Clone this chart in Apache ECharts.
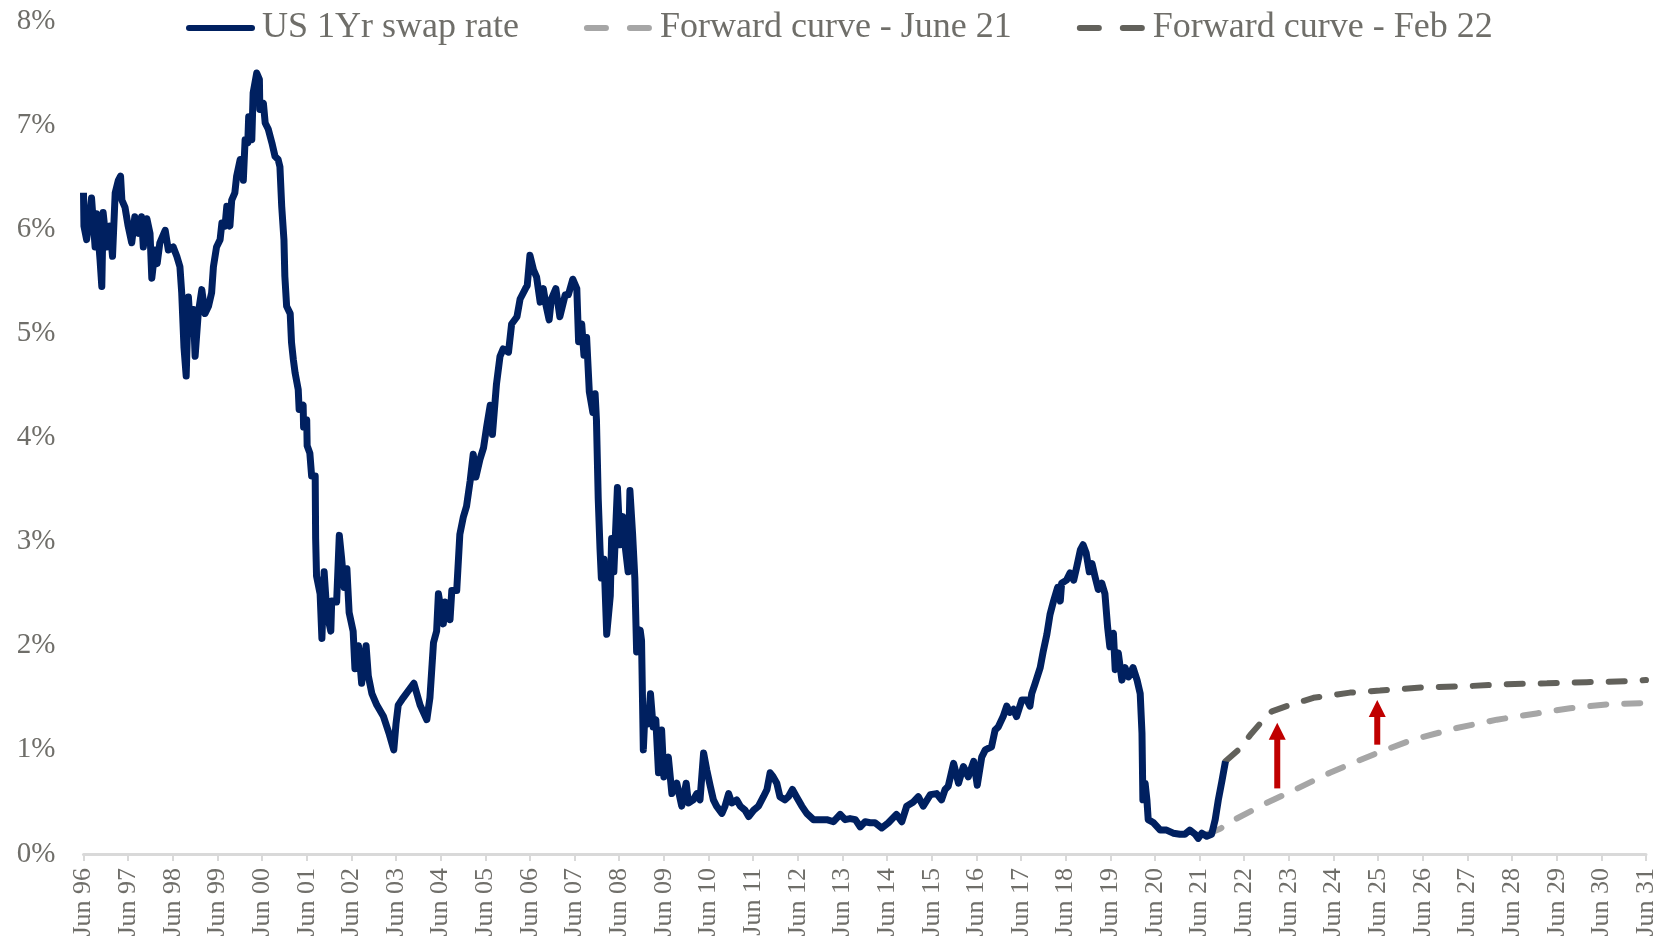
<!DOCTYPE html>
<html>
<head>
<meta charset="utf-8">
<title>US 1Yr swap rate</title>
<script src="https://cdn.jsdelivr.net/npm/echarts@6/dist/echarts.min.js"></script>
<style>
  html, body { margin: 0; padding: 0; background: #fff; }
  #chart { width: 1660px; height: 944px; }
</style>
</head>
<body>
<div id="chart"></div>
<script>
// x values are years after Jun 96 (the first tick)
var xTickLabels = ['Jun 96','Jun 97','Jun 98','Jun 99','Jun 00','Jun 01','Jun 02','Jun 03','Jun 04','Jun 05',
  'Jun 06','Jun 07','Jun 08','Jun 09','Jun 10','Jun 11','Jun 12','Jun 13','Jun 14','Jun 15','Jun 16',
  'Jun 17','Jun 18','Jun 19','Jun 20','Jun 21','Jun 22','Jun 23','Jun 24','Jun 25','Jun 26','Jun 27',
  'Jun 28','Jun 29','Jun 30','Jun 31'];

var swapT = [0.00,0.01,0.07,0.18,0.26,0.29,0.37,0.41,0.44,0.52,0.59,0.65,0.71,0.78,0.83,0.86,0.93,1.00,1.08,1.15,
  1.23,1.30,1.34,1.42,1.49,1.53,1.60,1.65,1.71,1.83,1.90,2.01,2.09,2.16,2.20,2.25,2.30,2.35,2.40,2.46,
  2.50,2.57,2.65,2.72,2.80,2.87,2.91,2.98,3.06,3.10,3.17,3.21,3.28,3.32,3.39,3.43,3.51,3.58,3.62,3.68,
  3.70,3.77,3.80,3.88,3.94,3.95,4.03,4.07,4.14,4.22,4.29,4.36,4.40,4.44,4.49,4.51,4.55,4.63,4.66,4.70,
  4.74,4.81,4.83,4.92,4.93,5.00,5.01,5.07,5.11,5.19,5.20,5.22,5.30,5.34,5.39,5.45,5.54,5.56,5.67,5.73,
  5.78,5.84,5.90,5.95,6.04,6.08,6.16,6.23,6.33,6.38,6.46,6.57,6.72,6.85,6.95,7.00,7.05,7.16,7.40,7.54,
  7.69,7.76,7.84,7.91,7.95,8.06,8.10,8.21,8.25,8.36,8.43,8.51,8.58,8.66,8.73,8.79,8.88,8.96,9.03,9.11,
  9.16,9.25,9.33,9.40,9.52,9.59,9.71,9.78,9.90,9.94,10.00,10.08,10.15,10.23,10.30,10.36,10.43,10.48,10.58,10.67,
  10.79,10.86,10.96,11.05,11.09,11.16,11.21,11.27,11.33,11.41,11.46,11.49,11.53,11.57,11.60,11.66,11.72,11.80,11.83,11.88,
  11.96,12.02,12.08,12.13,12.20,12.24,12.30,12.35,12.39,12.47,12.50,12.54,12.58,12.65,12.70,12.76,12.82,12.88,12.95,13.00,
  13.10,13.18,13.29,13.40,13.50,13.55,13.66,13.74,13.81,13.89,13.96,14.04,14.11,14.18,14.30,14.37,14.45,14.52,14.63,14.71,
  14.82,14.90,15.01,15.12,15.23,15.31,15.38,15.45,15.53,15.60,15.71,15.79,15.88,15.97,16.09,16.20,16.35,16.50,16.65,16.80,
  16.95,17.06,17.17,17.29,17.40,17.51,17.62,17.73,17.88,18.03,18.21,18.33,18.44,18.59,18.70,18.81,18.97,19.11,19.22,19.30,
  19.37,19.49,19.60,19.71,19.82,19.94,20.02,20.12,20.20,20.34,20.42,20.49,20.60,20.68,20.75,20.83,20.90,21.02,21.13,21.20,
  21.24,21.31,21.43,21.50,21.58,21.65,21.73,21.82,21.88,21.91,22.02,22.10,22.18,22.25,22.33,22.39,22.46,22.53,22.59,22.66,
  22.73,22.81,22.88,22.94,22.99,23.07,23.11,23.18,23.26,23.33,23.41,23.51,23.60,23.67,23.71,23.73,23.78,23.82,23.85,23.97,
  24.12,24.26,24.41,24.56,24.67,24.78,24.90,24.97,25.05,25.16,25.27,25.35,25.42,25.50,25.58];

var swapRate = [6.35,6.03,5.90,6.30,5.83,6.15,5.71,5.45,6.16,5.83,6.03,5.74,6.35,6.47,6.51,6.28,6.21,6.03,5.87,6.12,
  5.96,6.12,5.83,6.10,5.96,5.53,5.80,5.67,5.87,5.99,5.80,5.83,5.74,5.64,5.39,4.87,4.59,5.35,5.00,5.23,
  4.78,5.19,5.42,5.19,5.26,5.39,5.64,5.83,5.90,6.06,6.03,6.22,6.03,6.28,6.35,6.51,6.67,6.47,6.86,6.83,
  7.08,6.86,7.31,7.50,7.44,7.15,7.21,7.02,6.96,6.83,6.70,6.67,6.60,6.22,5.90,5.55,5.26,5.19,4.91,4.75,
  4.62,4.46,4.27,4.31,4.10,4.17,3.92,3.85,3.63,3.63,3.03,2.67,2.50,2.07,2.71,2.32,2.14,2.43,2.42,3.06,
  2.85,2.56,2.74,2.32,2.14,1.78,2.00,1.64,2.00,1.71,1.54,1.43,1.32,1.15,1.00,1.25,1.43,1.50,1.64,1.43,
  1.29,1.50,2.03,2.14,2.50,2.21,2.42,2.25,2.53,2.53,3.07,3.24,3.34,3.58,3.84,3.62,3.79,3.90,4.10,4.31,
  4.03,4.51,4.78,4.85,4.82,5.09,5.16,5.33,5.43,5.46,5.75,5.61,5.54,5.30,5.43,5.27,5.13,5.33,5.43,5.16,
  5.37,5.37,5.52,5.43,4.92,5.09,4.79,4.96,4.44,4.24,4.42,4.17,3.41,2.93,2.65,2.83,2.11,2.48,3.03,2.71,
  3.52,2.97,3.24,2.97,2.71,3.49,3.07,2.65,1.94,2.15,2.05,1.00,1.38,1.25,1.54,1.22,1.29,0.78,1.19,0.74,
  0.93,0.58,0.68,0.46,0.68,0.49,0.52,0.58,0.52,0.97,0.81,0.65,0.52,0.46,0.39,0.46,0.58,0.49,0.52,0.46,
  0.42,0.36,0.42,0.46,0.55,0.62,0.78,0.74,0.68,0.55,0.52,0.55,0.62,0.55,0.46,0.39,0.33,0.33,0.33,0.31,
  0.38,0.33,0.34,0.33,0.26,0.31,0.30,0.30,0.25,0.30,0.38,0.31,0.46,0.50,0.55,0.46,0.57,0.58,0.52,0.62,
  0.65,0.87,0.68,0.84,0.74,0.89,0.66,0.93,1.00,1.03,1.19,1.22,1.32,1.42,1.36,1.39,1.32,1.48,1.48,1.42,
  1.54,1.63,1.79,1.95,2.11,2.30,2.43,2.56,2.43,2.60,2.63,2.70,2.63,2.76,2.92,2.97,2.89,2.71,2.79,2.66,
  2.54,2.60,2.50,2.18,1.99,2.12,1.77,1.93,1.67,1.79,1.70,1.79,1.67,1.54,1.16,0.52,0.68,0.52,0.33,0.30,
  0.23,0.23,0.20,0.19,0.19,0.23,0.19,0.15,0.20,0.17,0.19,0.33,0.52,0.70,0.89];

var fwdJun21T = [25.16,25.45,25.83,26.50,27.10,27.92,28.52,29.04,29.79,30.76,31.66,32.55,33.30,34.19,35.00];
var fwdJun21Rate = [0.19,0.24,0.34,0.49,0.61,0.78,0.89,0.98,1.10,1.21,1.29,1.35,1.40,1.44,1.45];

var fwdFeb22T = [25.58,25.87,26.13,26.35,26.62,26.95,27.55,28.37,29.04,30.01,30.91,31.81,32.78,33.67,34.60,35.00];
var fwdFeb22Rate = [0.89,1.00,1.14,1.25,1.37,1.42,1.50,1.55,1.57,1.60,1.61,1.63,1.64,1.65,1.66,1.67];

// red arrows: x position, base value, tip value
var arrowT = [26.74, 28.98];
var arrowFrom = [0.63, 1.05];
var arrowTo = [1.26, 1.48];

function zip(xs, ys) {
  return xs.map(function (x, i) { return [x, ys[i]]; });
}

var textColor = '#6F6E69';
var fontName = '"Liberation Serif", "DejaVu Serif", serif';

var chart = echarts.init(document.getElementById('chart'));
var option = {
  animation: false,
  backgroundColor: '#fff',
  grid: { left: 83.5, right: 14, top: 21, bottom: 90, containLabel: false },
  legend: {
    left: 181,
    top: 4,
    itemWidth: 63,
    itemHeight: 14,
    itemGap: 65,
    itemStyle: { opacity: 0 },
    lineStyle: { width: 6, cap: 'round' },
    textStyle: { color: textColor, fontSize: 36, fontFamily: fontName, lineHeight: 38, padding: [0, 0, 0, 5] },
    data: [
      { name: 'US 1Yr swap rate' },
      { name: 'Forward curve - June 21', lineStyle: { width: 6, type: [19, 24], cap: 'round' } },
      { name: 'Forward curve - Feb 22', lineStyle: { width: 6, type: [19, 24], cap: 'round' } }
    ]
  },
  xAxis: {
    type: 'value',
    min: 0,
    max: 35,
    interval: 1,
    splitLine: { show: false },
    axisLine: { lineStyle: { color: '#D9D9D9', width: 3 } },
    axisTick: { show: true, length: 7, lineStyle: { color: '#D9D9D9', width: 2 } },
    axisLabel: {
      rotate: 90,
      margin: 14,
      fontSize: 26,
      fontFamily: fontName,
      color: textColor,
      formatter: function (v) { return xTickLabels[Math.round(v)]; }
    }
  },
  yAxis: {
    type: 'value',
    min: 0,
    max: 8,
    interval: 1,
    splitLine: { show: false },
    axisLine: { show: false },
    axisTick: { show: false },
    axisLabel: {
      margin: 28,
      fontSize: 29,
      fontFamily: fontName,
      color: textColor,
      formatter: '{value}%'
    }
  },
  series: [
    {
      name: 'Forward curve - June 21',
      type: 'line',
      symbol: 'none',
      data: zip(fwdJun21T, fwdJun21Rate),
      itemStyle: { color: '#A6A6A6' },
      lineStyle: { color: '#A6A6A6', width: 6, type: [16, 18], cap: 'round' },
      z: 2
    },
    {
      name: 'Forward curve - Feb 22',
      type: 'line',
      symbol: 'none',
      data: zip(fwdFeb22T, fwdFeb22Rate),
      itemStyle: { color: '#62615B' },
      lineStyle: { color: '#62615B', width: 6, type: [16, 18], cap: 'round' },
      z: 3
    },
    {
      name: 'US 1Yr swap rate',
      type: 'line',
      symbol: 'none',
      data: zip(swapT, swapRate),
      itemStyle: { color: '#002060' },
      lineStyle: { color: '#002060', width: 7, join: 'round' },
      z: 4
    },
    {
      name: 'arrows',
      type: 'custom',
      z: 5,
      encode: { x: 0, y: [1, 2] },
      data: arrowT.map(function (t, i) { return [t, arrowFrom[i], arrowTo[i]]; }),
      renderItem: function (params, api) {
        var base = api.coord([api.value(0), api.value(1)]);
        var tip = api.coord([api.value(0), api.value(2)]);
        var headH = 17, headW = 17, shaftW = 6;
        return {
          type: 'group',
          children: [
            {
              type: 'rect',
              shape: { x: base[0] - shaftW / 2, y: tip[1] + headH - 1, width: shaftW, height: base[1] - tip[1] - headH + 1 },
              style: { fill: '#C00000' }
            },
            {
              type: 'polygon',
              shape: { points: [[tip[0], tip[1]], [tip[0] - headW / 2, tip[1] + headH], [tip[0] + headW / 2, tip[1] + headH]] },
              style: { fill: '#C00000' }
            }
          ]
        };
      }
    }
  ]
};
chart.setOption(option);
</script>
</body>
</html>
